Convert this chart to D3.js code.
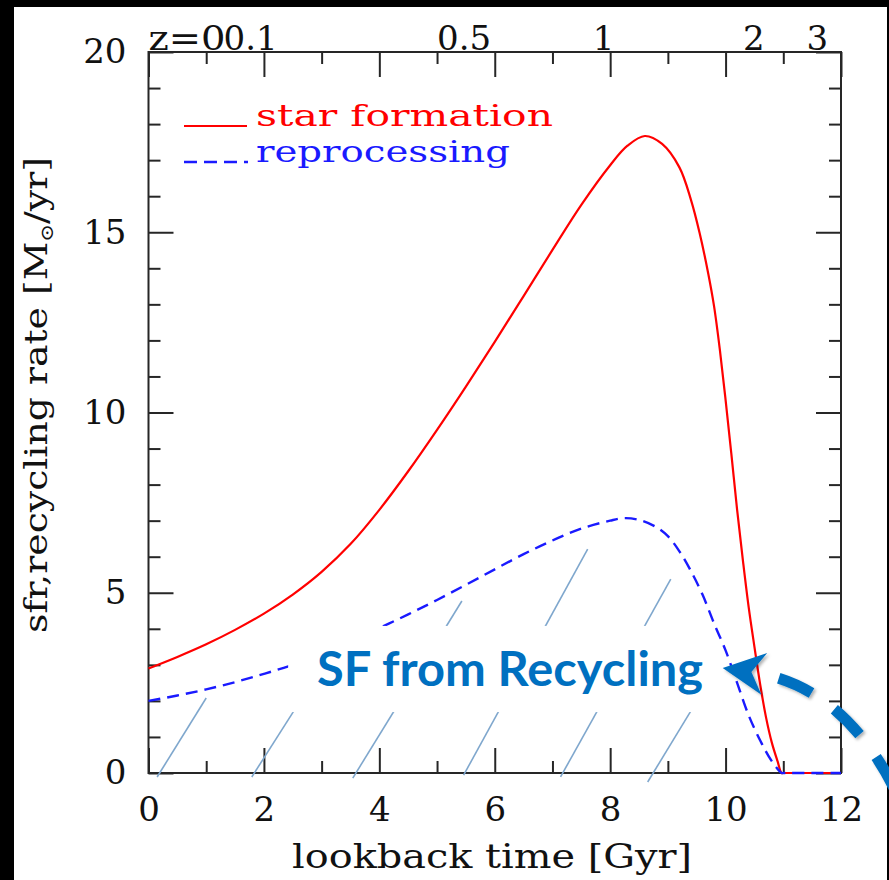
<!DOCTYPE html>
<html>
<head>
<meta charset="utf-8">
<script src="https://cdn.jsdelivr.net/npm/d3@7/dist/d3.min.js"></script>
<style>
  html, body { margin: 0; padding: 0; background: #000; }
  svg { display: block; }
</style>
</head>
<body>
<svg id="chart" width="889" height="880"></svg>
<script>
// Star formation history: lookback time (Gyr) vs rate (Msun/yr)
const sfTime = [0, 0.5, 1, 1.5, 2, 2.5, 3, 3.5, 4, 4.5, 5, 5.5, 6, 6.5, 7, 7.5, 8, 8.3, 8.6, 8.9, 9.2, 9.4, 9.55, 9.7, 9.8, 9.9, 10.0, 10.1, 10.2, 10.3, 10.4, 10.5, 10.6, 10.7, 10.8, 10.9, 10.97, 11, 11.5, 12];
const sfRate = [2.9, 3.22, 3.57, 3.97, 4.42, 4.95, 5.58, 6.35, 7.3, 8.37, 9.52, 10.72, 11.96, 13.23, 14.51, 15.76, 16.86, 17.4, 17.67, 17.45, 16.8, 15.9, 14.98, 13.85, 12.95, 11.75, 10.35, 8.85, 7.3, 5.9, 4.6, 3.5, 2.45, 1.55, 0.85, 0.33, 0, 0, 0, 0];

// Gas reprocessing (recycling) rate
const recTime = [0, 0.5, 1, 1.5, 2, 2.5, 3, 3.5, 4, 4.5, 5, 5.5, 6, 6.5, 7, 7.5, 8, 8.25, 8.5, 8.8, 9.0, 9.2, 9.4, 9.6, 9.8, 10.0, 10.2, 10.4, 10.6, 10.8, 10.97, 11, 12];
const recRate = [2.0, 2.15, 2.32, 2.52, 2.75, 3.0, 3.3, 3.64, 4.02, 4.4, 4.8, 5.22, 5.65, 6.07, 6.45, 6.78, 7.0, 7.07, 7.02, 6.82, 6.57, 6.15, 5.6, 4.95, 4.15, 3.4, 2.5, 1.6, 0.9, 0.33, 0, 0, 0];

// Axis ticks
const xTicks = d3.range(0, 13);
const yTicks = d3.range(0, 21);
// Redshift labels on the top axis, placed at their lookback times
const zTime = [0, 1.3, 5.0, 7.7, 10.3, 11.4];
const zText = ["z=0", "0.1", "0.5", "1", "2", "3"];

// Hatching under the recycling curve: [t0, rate0, t1, rate1]
const hatchSegments = [
  [0.15, -0.11, 1.00, 2.08],
  [1.79, -0.11, 2.55, 1.80],
  [3.54, -0.14, 5.43, 4.77],
  [5.46, -0.06, 7.61, 6.21],
  [7.14, -0.11, 9.05, 5.38],
  [8.65, -0.25, 9.41, 1.75]
];

// Callout: label box [t0, rate0, t1, rate1], text anchor, arrow tip / control / tail
const calloutBox = [2.42, 1.69, 9.69, 4.08];
const calloutText = "SF from Recycling";
const calloutAt = [2.92, 2.41];
const arrowTip = [9.95, 2.91];
const arrowCtrl = [12.06, 2.44];
const arrowTail = [12.98, -0.61];

const W = 889, H = 880;
const svg = d3.select("#chart");

// page frame
svg.append("rect").attr("x", 0).attr("y", 0).attr("width", W).attr("height", H).attr("fill", "#000");
svg.append("rect").attr("x", 14).attr("y", 7).attr("width", 873).attr("height", 873).attr("fill", "#fff");

const x = d3.scaleLinear().domain([0, 12]).range([148.5, 841]);
const y = d3.scaleLinear().domain([0, 20]).range([773, 52]);

const serif = "'DejaVu Serif', 'Liberation Serif', serif";
const axisColor = "#262626";

function styleTicks(g, major, longLen, shortLen, attr) {
  g.select(".domain").remove();
  g.selectAll(".tick line")
    .attr(attr, d => major(d) ? longLen : shortLen)
    .attr("stroke", axisColor)
    .attr("stroke-width", 2);
  g.attr("font-family", serif).attr("font-size", 34);
  g.selectAll(".tick text").attr("fill", "#111");
}

// bottom axis
const gB = svg.append("g").attr("transform", `translate(0,${y(0)})`)
  .call(d3.axisBottom(x).tickValues(xTicks).tickSize(-25).tickSizeOuter(0).tickPadding(24)
    .tickFormat(d => d % 2 === 0 ? d : ""));
styleTicks(gB, d => d % 2 === 0, -25, -12, "y2");

// top axis
const gT = svg.append("g").attr("transform", `translate(0,${y(20)})`)
  .call(d3.axisTop(x).tickValues(xTicks).tickSize(-25).tickSizeOuter(0).tickFormat(""));
styleTicks(gT, d => d % 2 === 0, 25, 12, "y2");

// left axis
const gL = svg.append("g").attr("transform", `translate(${x(0)},0)`)
  .call(d3.axisLeft(y).tickValues(yTicks).tickSize(-25).tickSizeOuter(0).tickPadding(22)
    .tickFormat(d => d % 5 === 0 ? d : ""));
styleTicks(gL, d => d % 5 === 0, 25, 12, "x2");

// right axis
const gR = svg.append("g").attr("transform", `translate(${x(12)},0)`)
  .call(d3.axisRight(y).tickValues(yTicks).tickSize(-25).tickSizeOuter(0).tickFormat(""));
styleTicks(gR, d => d % 5 === 0, -25, -12, "x2");

// redshift labels (the "z=" prefix is drawn wide, as in the plotting package)
svg.append("g").selectAll("text").data(zTime).join("text")
  .attr("x", d => x(d)).attr("y", y(20) - 2)
  .attr("font-family", serif).attr("font-size", 34).attr("fill", "#111")
  .attr("textLength", (d, i) => i === 0 ? 77 : null)
  .attr("lengthAdjust", "spacingAndGlyphs")
  .text((d, i) => zText[i]);

// plot frame
svg.append("rect")
  .attr("x", x(0)).attr("y", y(20))
  .attr("width", x(12) - x(0)).attr("height", y(0) - y(20))
  .attr("fill", "none").attr("stroke", axisColor).attr("stroke-width", 2);

// curves
const line = d3.line().x(d => x(d[0])).y(d => y(d[1])).curve(d3.curveCatmullRom.alpha(0.5));
svg.append("path").datum(sfTime.map((t, i) => [t, sfRate[i]]))
  .attr("d", line).attr("fill", "none").attr("stroke", "#ff0000").attr("stroke-width", 2.2);
svg.append("path").datum(recTime.map((t, i) => [t, recRate[i]]))
  .attr("d", line).attr("fill", "none").attr("stroke", "#1a1aff").attr("stroke-width", 2.4)
  .attr("stroke-dasharray", "12 7");

// hatching
svg.append("g").selectAll("line").data(hatchSegments).join("line")
  .attr("x1", d => x(d[0])).attr("y1", d => y(d[1]))
  .attr("x2", d => x(d[2])).attr("y2", d => y(d[3]))
  .attr("stroke", "#7fa7cd").attr("stroke-width", 1.6);

// legend
const leg = svg.append("g").attr("font-family", serif).attr("font-size", 30);
leg.append("line").attr("x1", 184).attr("x2", 247).attr("y1", 126).attr("y2", 126)
  .attr("stroke", "#ff0000").attr("stroke-width", 2.2);
leg.append("text").attr("x", 256).attr("y", 126).attr("fill", "#ff0000")
  .attr("textLength", 297).attr("lengthAdjust", "spacingAndGlyphs").text("star formation");
leg.append("line").attr("x1", 184).attr("x2", 248).attr("y1", 162).attr("y2", 162)
  .attr("stroke", "#1a1aff").attr("stroke-width", 2.4).attr("stroke-dasharray", "13 7");
leg.append("text").attr("x", 256).attr("y", 162).attr("fill", "#1a1aff")
  .attr("textLength", 254).attr("lengthAdjust", "spacingAndGlyphs").text("reprocessing");

// axis titles
svg.append("text").attr("x", 292).attr("y", 868)
  .attr("font-family", serif).attr("font-size", 33).attr("fill", "#111")
  .attr("textLength", 400).attr("lengthAdjust", "spacingAndGlyphs")
  .text("lookback time [Gyr]");

const yt = svg.append("text")
  .attr("transform", "translate(47,395) rotate(-90) scale(1.18,1)")
  .attr("text-anchor", "middle")
  .attr("font-family", serif).attr("font-size", 32).attr("fill", "#111");
yt.append("tspan").text("sfr,recycling rate [M");
yt.append("tspan").attr("font-size", 18).attr("dy", 6).text("\u2299");
yt.append("tspan").attr("dy", -6).text("/yr]");

// callout box and label
svg.append("rect")
  .attr("x", x(calloutBox[0])).attr("y", y(calloutBox[3]))
  .attr("width", x(calloutBox[2]) - x(calloutBox[0]))
  .attr("height", y(calloutBox[1]) - y(calloutBox[3]))
  .attr("fill", "#fff");
svg.append("text")
  .attr("x", x(calloutAt[0])).attr("y", y(calloutAt[1]))
  .attr("font-family", "Lato, 'Open Sans', sans-serif").attr("font-weight", 700)
  .attr("font-size", 47).attr("fill", "#0070c0")
  .attr("textLength", 386).attr("lengthAdjust", "spacingAndGlyphs")
  .text(calloutText);

// curved dashed arrow pointing at the label
const defs = svg.append("defs");
const f = defs.append("filter").attr("id", "shadow").attr("x", "-20%").attr("y", "-20%").attr("width", "140%").attr("height", "140%");
f.append("feDropShadow").attr("dx", 2).attr("dy", 2).attr("stdDeviation", 1.5)
  .attr("flood-color", "#000").attr("flood-opacity", 0.3);

const T = [x(arrowTip[0]), y(arrowTip[1])];
const C = [x(arrowCtrl[0]), y(arrowCtrl[1])];
const E = [x(arrowTail[0]), y(arrowTail[1])];
const dx = C[0] - T[0], dy = C[1] - T[1], len = Math.hypot(dx, dy);
const u = [dx / len, dy / len], n = [-u[1], u[0]];
const headL = 42, headW = 21, notchL = 29;
const N = [T[0] + notchL * u[0], T[1] + notchL * u[1]];
const B = [T[0] + headL * u[0], T[1] + headL * u[1]];
const arrow = svg.append("g").attr("filter", "url(#shadow)");
arrow.append("path")
  .attr("d", `M${N[0]},${N[1]} Q${C[0]},${C[1]} ${E[0]},${E[1]}`)
  .attr("fill", "none").attr("stroke", "#0070c0").attr("stroke-width", 11)
  .attr("stroke-dasharray", "36 28").attr("stroke-dashoffset", 36);
arrow.append("path")
  .attr("d", `M${T[0]},${T[1]} L${B[0] + headW * n[0]},${B[1] + headW * n[1]} L${N[0]},${N[1]} L${B[0] - headW * n[0]},${B[1] - headW * n[1]} Z`)
  .attr("fill", "#0070c0");
</script>
</body>
</html>
